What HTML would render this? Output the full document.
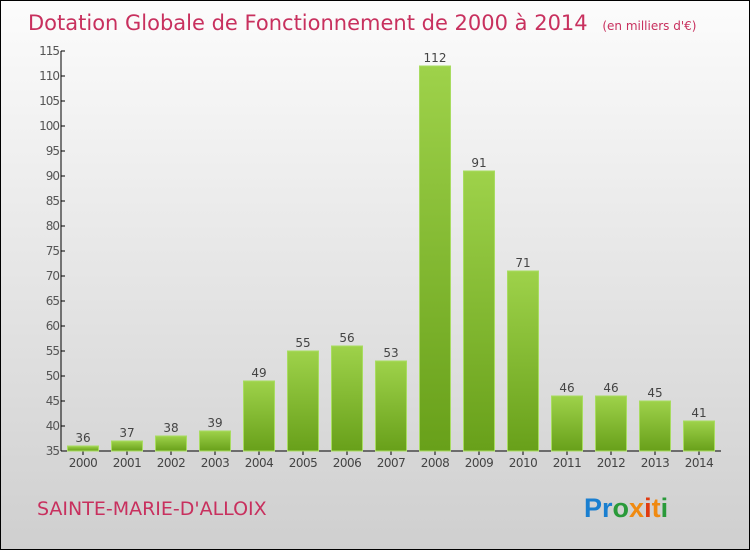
<!DOCTYPE html>
<html><head><meta charset="utf-8"><style>
body{margin:0;}
#c{width:750px;height:550px;position:relative;box-sizing:border-box;border:1px solid #000;background:linear-gradient(#fcfcfc,#cfcfcf);font-family:"DejaVu Sans","Liberation Sans",sans-serif;overflow:hidden}
</style></head><body>
<div id="c">
<svg width="750" height="550" style="position:absolute;left:0;top:0">
<defs><linearGradient id="g" x1="0" y1="0" x2="0" y2="1"><stop offset="0" stop-color="#9ed24a"/><stop offset="1" stop-color="#68a01a"/></linearGradient></defs>
<text x="27" y="29" font-size="21" fill="#c8305e">Dotation Globale de Fonctionnement de 2000 à 2014 <tspan font-size="12" dx="8">(en milliers d'€)</tspan></text>
<g id="axes"></g>
<g id="bars"></g>
<text x="36" y="514" font-size="19" fill="#c8305e">SAINTE-MARIE-D'ALLOIX</text>
<text x="583" y="516" font-size="27" font-weight="bold" font-family="Liberation Sans,sans-serif"><tspan fill="#1a7fd0">Pr</tspan><tspan fill="#2a9a3a">o</tspan><tspan fill="#f08a10">x</tspan><tspan fill="#e03a10">i</tspan><tspan fill="#f08a10">t</tspan><tspan fill="#2a9a3a">i</tspan></text>
</svg>
</div>
<script>
const years=["2000","2001","2002","2003","2004","2005","2006","2007","2008","2009","2010","2011","2012","2013","2014"];
const values=[36,37,38,39,49,55,56,53,112,91,71,46,46,45,41];
const yTicks=[35,40,45,50,55,60,65,70,75,80,85,90,95,100,105,110,115];
const NS="http://www.w3.org/2000/svg";
const y0=35,y1=115,py0=450,py1=50,ax=60,x0=82,step=44,bw=31;
function ys(v){return py0-(v-y0)/(y1-y0)*(py0-py1);}
function xs(i){return x0+i*step;}
function mk(t,a,p,txt){const e=document.createElementNS(NS,t);for(const k in a)e.setAttribute(k,a[k]);if(txt!==undefined)e.textContent=txt;p.appendChild(e);return e;}
const axes=document.getElementById('axes'),bars=document.getElementById('bars');
let e=mk('line',{x1:ax,y1:py1,x2:ax,y2:py0,stroke:'#000'},axes);


e=mk('line',{x1:ax,y1:py0,x2:720,y2:py0,stroke:'#000'},axes);


yTicks.forEach(v=>{
 mk('line',{x1:ax,y1:ys(v),x2:ax+4,y2:ys(v),stroke:'#000'},axes);
 const t=mk('text',{x:ax-2,y:ys(v)+4,'font-size':12,fill:'#555','text-anchor':'end','letter-spacing':'-1'},axes,v);
 
 
});
years.forEach((yr,i)=>{
 const x=xs(i),v=values[i];
 const r=mk('rect',{x:x-bw/2,y:ys(v),width:bw,height:py0-ys(v),fill:'url(#g)',stroke:'#a8dc60','stroke-width':1},bars);
 
 
 const l=mk('text',{x:x,y:ys(v)-4,'font-size':12,fill:'#444','text-anchor':'middle'},bars,v);
 
 
 mk('line',{x1:x,y1:py0,x2:x,y2:py0+4,stroke:'#000'},axes);
 const xl=mk('text',{x:x,y:py0+16,'font-size':12,fill:'#444','text-anchor':'middle','letter-spacing':'-0.5'},axes,yr);
 
 
});
</script>
</body></html>
